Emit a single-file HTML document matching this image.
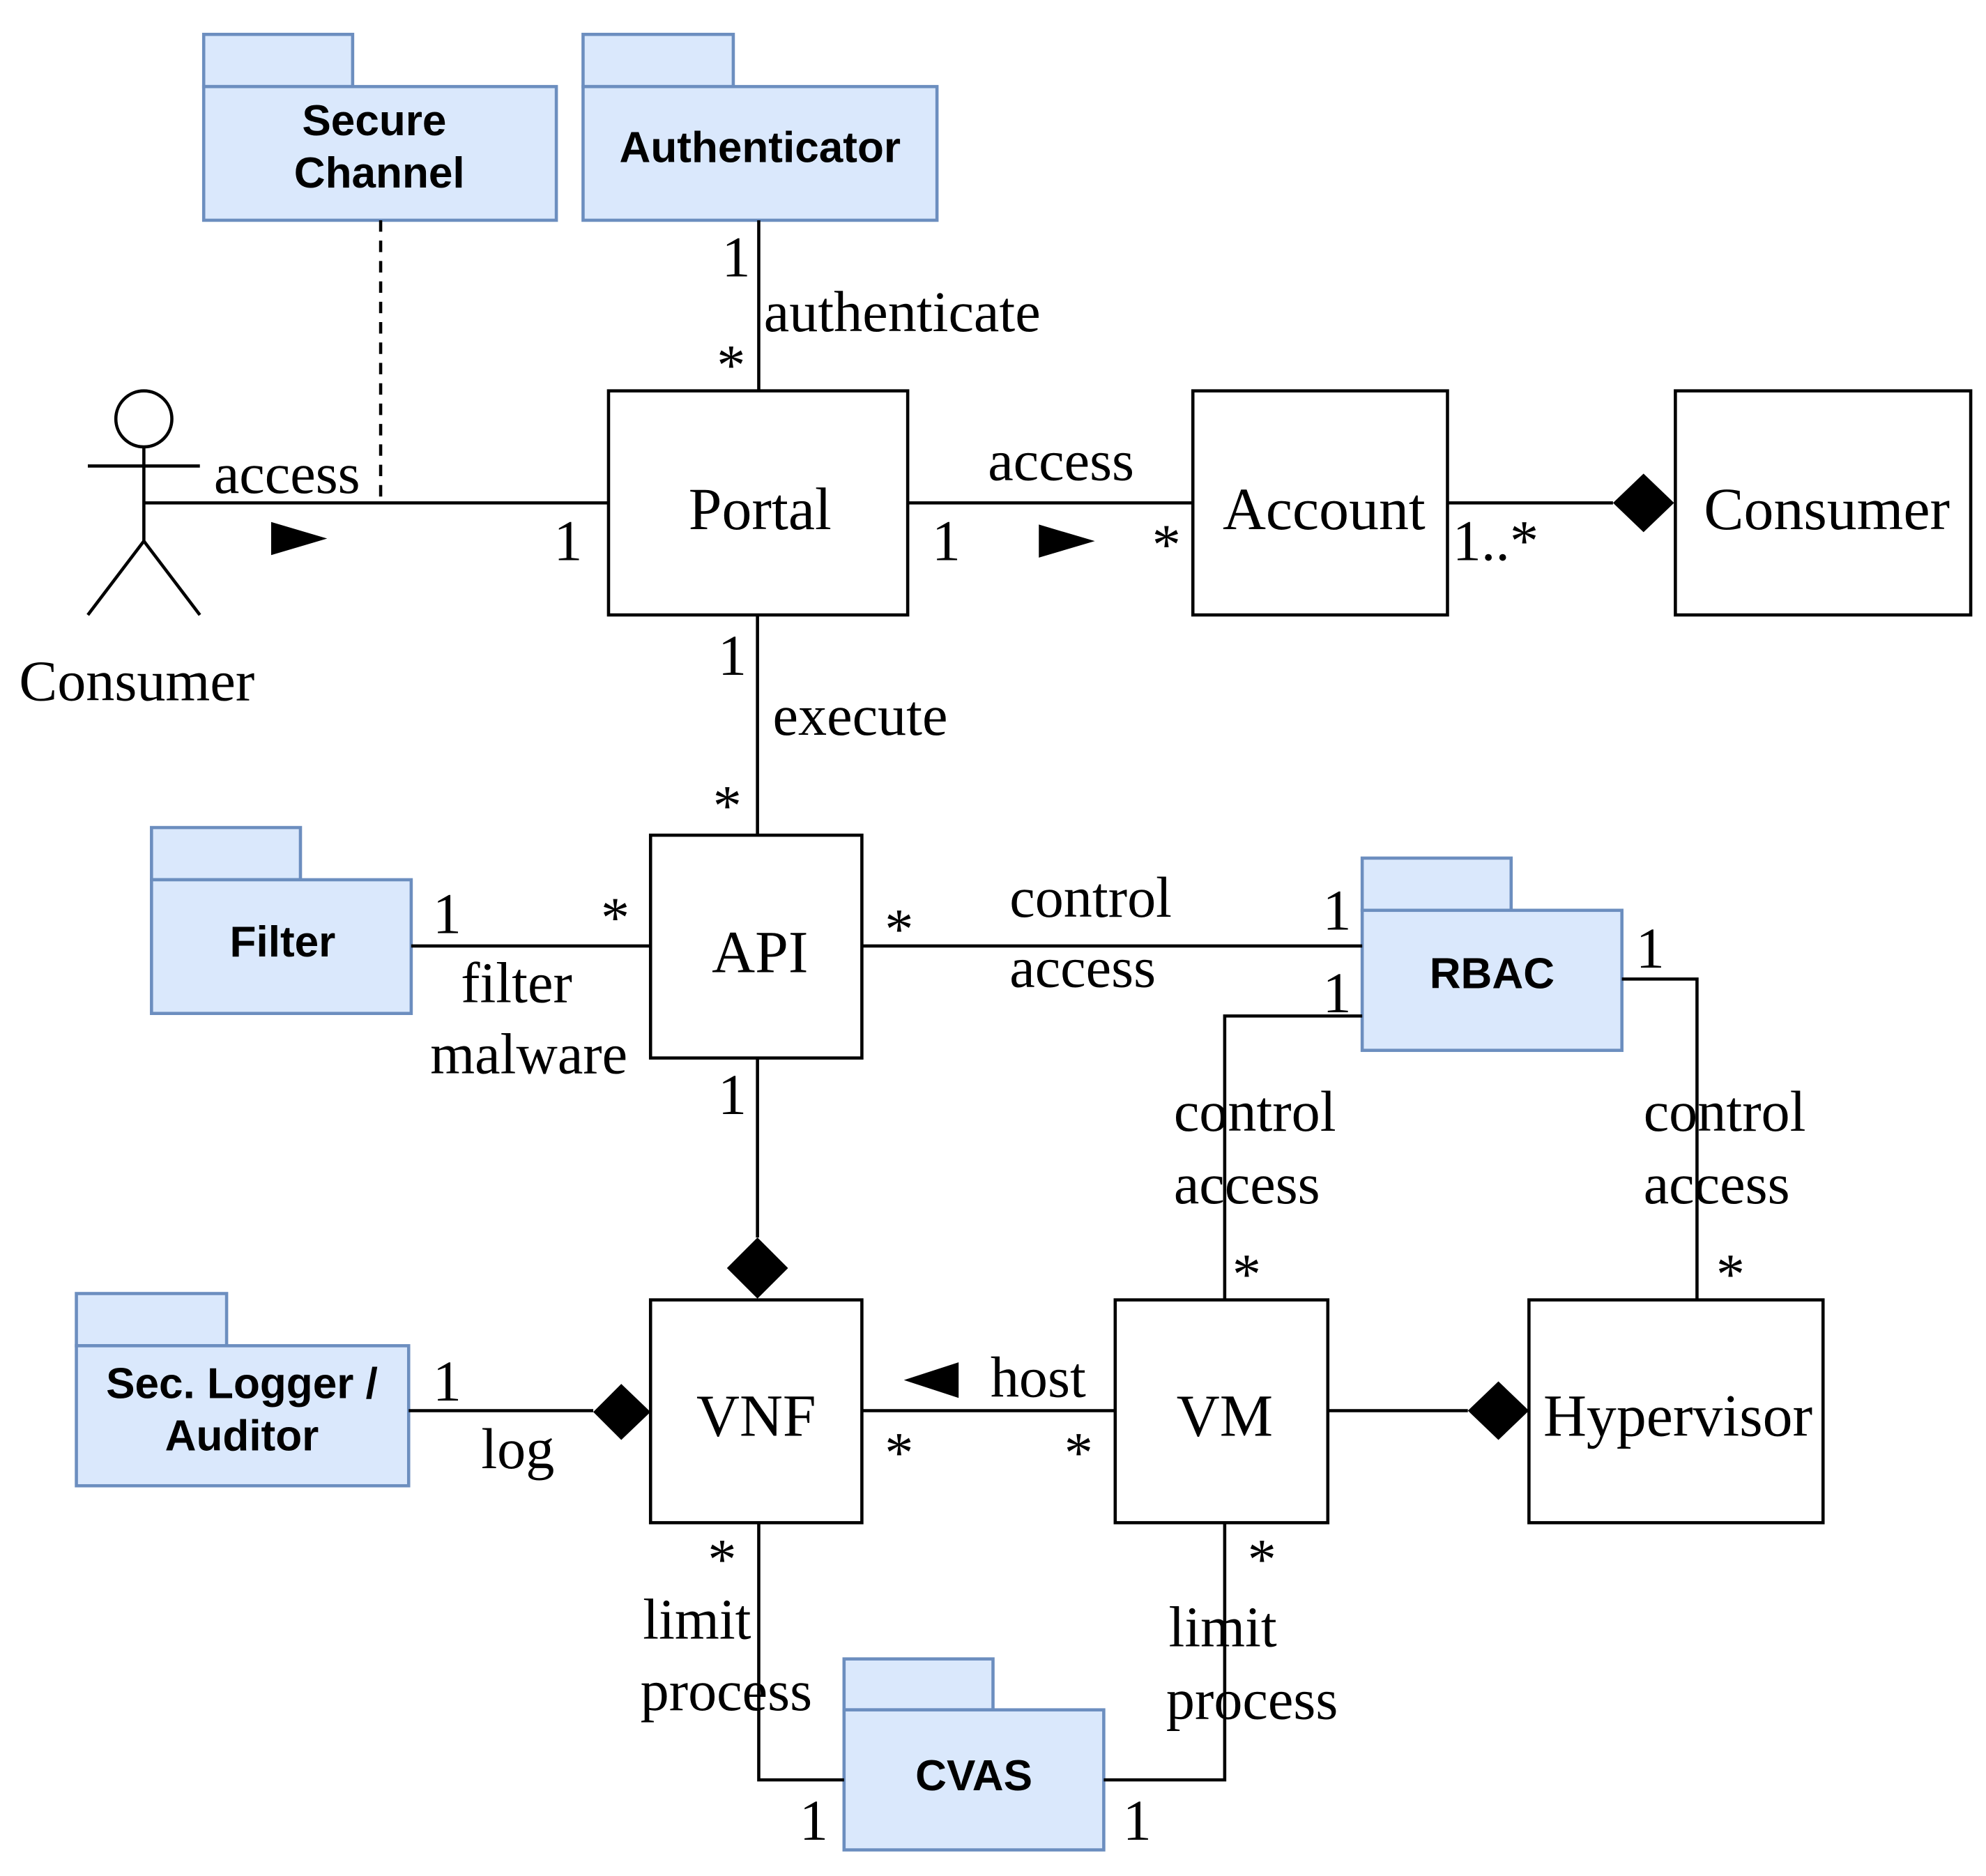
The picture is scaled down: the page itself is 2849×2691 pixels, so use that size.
<!DOCTYPE html>
<html><head><meta charset="utf-8"><style>html,body{margin:0;padding:0;background:#fff}svg{display:block}</style></head>
<body>
<svg width="2849" height="2691" viewBox="0 0 1560 1473.5" preserveAspectRatio="none" xmlns="http://www.w3.org/2000/svg">
<g fill="#dae8fc" stroke="#6c8ebf" stroke-width="2.5">
<rect x="160" y="27" width="117" height="41"/><rect x="160" y="68" width="277" height="105"/>
<rect x="458" y="27" width="118" height="41"/><rect x="458" y="68" width="278" height="105"/>
<rect x="119" y="650" width="117" height="41"/><rect x="119" y="691" width="204" height="105"/>
<rect x="1070" y="674" width="117" height="41"/><rect x="1070" y="715" width="204" height="110"/>
<rect x="60" y="1016" width="118" height="41"/><rect x="60" y="1057" width="261" height="110"/>
<rect x="663" y="1303" width="117" height="40"/><rect x="663" y="1343" width="204" height="110"/>
</g>
<g font-family="Liberation Sans, sans-serif" font-weight="bold" font-size="34" text-anchor="middle" dominant-baseline="central" fill="#000">
<text x="294" y="95">Secure</text><text x="298" y="136">Channel</text>
<text x="597" y="116">Authenticator</text>
<text x="222" y="740">Filter</text>
<text x="1172" y="765">RBAC</text>
<text x="190" y="1087">Sec. Logger /</text><text x="190" y="1128">Auditor</text>
<text x="765" y="1395">CVAS</text>
</g>
<g fill="none" stroke="#000" stroke-width="2.5">
<line x1="299" y1="173" x2="299" y2="395" stroke-dasharray="9,7"/>
<circle cx="113" cy="329" r="22"/>
<line x1="69" y1="366" x2="157" y2="366"/><line x1="113" y1="351" x2="113" y2="425"/>
<polyline points="69,483 113,425 157,483"/>
<line x1="113" y1="395" x2="478" y2="395"/>
<rect x="478" y="307" width="235" height="176"/>
<line x1="596" y1="173" x2="596" y2="307"/>
<line x1="713" y1="395" x2="937" y2="395"/>
<rect x="937" y="307" width="200" height="176"/>
<line x1="1137" y1="395" x2="1267" y2="395"/>
<rect x="1316" y="307" width="232" height="176"/>
<line x1="595" y1="483" x2="595" y2="656"/>
<rect x="511" y="656" width="166" height="175"/>
<line x1="323" y1="743" x2="511" y2="743"/>
<line x1="677" y1="743" x2="1070" y2="743"/>
<polyline points="1070,798 962,798 962,1021"/>
<polyline points="1274,769 1333,769 1333,1021"/>
<line x1="595" y1="831" x2="595" y2="972"/>
<rect x="511" y="1021" width="166" height="175"/>
<rect x="876" y="1021" width="167" height="175"/>
<rect x="1201" y="1021" width="231" height="175"/>
<line x1="1043" y1="1108" x2="1153" y2="1108"/>
<line x1="677" y1="1108" x2="876" y2="1108"/>
<line x1="321" y1="1108" x2="466" y2="1108"/>
<polyline points="596,1196 596,1398 663,1398"/>
<polyline points="962,1196 962,1398 867,1398"/>
</g>
<g fill="#000">
<polygon points="213,410 257,423 213,436"/>
<polygon points="816,412 860,425 816,438"/>
<polygon points="753,1070 710,1084 753,1098"/>
<polygon points="1267,395 1291,372 1315,395 1291,418"/>
<polygon points="595,972 619,996 595,1020 571,996"/>
<polygon points="1153,1108 1177,1085 1201,1108 1177,1131"/>
<polygon points="466,1109 488,1087 511,1109 488,1131"/>
</g>
<g font-family="Liberation Serif, serif" font-size="47" text-anchor="middle" dominant-baseline="central" fill="#000">
<text x="597" y="400">Portal</text>
<text x="1040" y="400">Account</text>
<text x="1435" y="400">Consumer</text>
<text x="597" y="748">API</text>
<text x="594" y="1112">VNF</text>
<text x="962" y="1112">VM</text>
<text x="1318" y="1112">Hypervisor</text>
</g>
<g font-family="Liberation Serif, serif" font-size="45" dominant-baseline="central" fill="#000">
<text x="15" y="535">Consumer</text>
<text x="168" y="372">access</text>
<text x="435" y="425">1</text>
<text x="567" y="202">1</text>
<text x="600" y="245">authenticate</text>
<text x="563" y="287">*</text>
<text x="776" y="362">access</text>
<text x="732" y="425">1</text>
<text x="905" y="428">*</text>
<text x="1141" y="425">1..*</text>
<text x="564" y="515">1</text>
<text x="607" y="562">execute</text>
<text x="560" y="633">*</text>
<text x="340" y="718">1</text>
<text x="472" y="721">*</text>
<text x="362" y="772">filter</text>
<text x="338" y="828">malware</text>
<text x="695" y="730">*</text>
<text x="793" y="705">control</text>
<text x="793" y="760">access</text>
<text x="1039" y="715">1</text>
<text x="1039" y="780">1</text>
<text x="1285" y="745">1</text>
<text x="922" y="873">control</text>
<text x="922" y="930">access</text>
<text x="968" y="1001">*</text>
<text x="1291" y="873">control</text>
<text x="1291" y="930">access</text>
<text x="1348" y="1001">*</text>
<text x="564" y="860">1</text>
<text x="340" y="1085">1</text>
<text x="378" y="1138">log</text>
<text x="778" y="1082">host</text>
<text x="695" y="1141">*</text>
<text x="836" y="1141">*</text>
<text x="556" y="1225">*</text>
<text x="505" y="1272">limit</text>
<text x="503" y="1328">process</text>
<text x="628" y="1430">1</text>
<text x="980" y="1225">*</text>
<text x="918" y="1278">limit</text>
<text x="916" y="1335">process</text>
<text x="882" y="1430">1</text>
</g>
</svg>
</body></html>
